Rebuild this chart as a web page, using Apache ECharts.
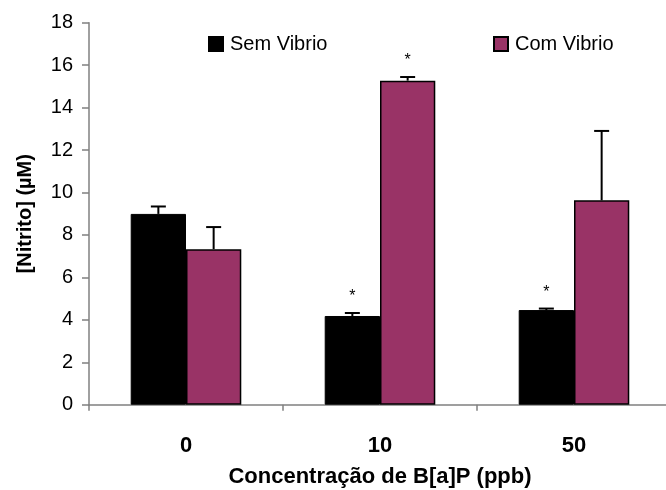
<!DOCTYPE html>
<html>
<head>
<meta charset="utf-8">
<script src="https://cdn.jsdelivr.net/npm/echarts@6/dist/echarts.min.js"></script>
<style>
  html, body { margin: 0; padding: 0; background: #fff; }
  #chart { width: 666px; height: 490px; }
</style>
</head>
<body>
<div id="chart"></div>
<script>
// Nitrite concentration by B[a]P dose, with and without Vibrio challenge
const categories = ['0', '10', '50'];
const semVibrio = [8.99, 4.18, 4.46];
const semVibrioErr = [0.35, 0.14, 0.07];
const semVibrioSig = [false, true, true];
const comVibrio = [7.33, 15.27, 9.63];
const comVibrioErr = [1.04, 0.17, 3.27];
const comVibrioSig = [false, true, false];
const yTicks = { min: 0, max: 18, interval: 2 };

const BAR_FRAC = 0.285;
const FONT = 'Liberation Sans, Arial, sans-serif';

function errItems(vals, errs, sig) {
  return vals.map((v, i) => [i, v, errs[i], sig[i] ? 1 : 0]);
}

// side: -1 = left bar of the pair, +1 = right bar
function errorRenderer(side) {
  return function (params, api) {
    const i = api.value(0), v = api.value(1), e = api.value(2), s = api.value(3);
    const catW = api.size([1, 0])[0];
    const bw = catW * BAR_FRAC;
    const base = api.coord([i, v]);
    const x = base[0] + side * bw / 2;
    const top = api.coord([i, v + e])[1];
    const style = { stroke: '#000', lineWidth: 2 };
    const children = [
      { type: 'line', shape: { x1: x, y1: base[1], x2: x, y2: top }, style: style },
      { type: 'line', shape: { x1: x - 7.5, y1: top, x2: x + 7.5, y2: top }, style: style }
    ];
    if (s) {
      children.push({
        type: 'text',
        style: { text: '*', x: x, y: top - 16, textAlign: 'center', textVerticalAlign: 'middle',
                 font: '16px ' + FONT, fill: '#000' }
      });
    }
    return { type: 'group', children: children };
  };
}

const legendText = { fontFamily: FONT, fontSize: 20, color: '#000', padding: [0, 0, 0, 2] };

const chart = echarts.init(document.getElementById('chart'), null, { renderer: 'canvas' });
chart.setOption({
  animation: false,
  backgroundColor: '#fff',
  grid: { left: 89, top: 22.7, width: 582, height: 382, containLabel: false, outerBoundsMode: 'none' },
  legend: [
    { data: ['Sem Vibrio'], left: 208, top: 34, padding: 0, itemWidth: 14, itemHeight: 14,
      icon: 'rect', textStyle: legendText },
    { data: ['Com Vibrio'], left: 493, top: 34, padding: 0, itemWidth: 14, itemHeight: 14,
      icon: 'rect', textStyle: legendText }
  ],
  xAxis: {
    type: 'category',
    data: categories,
    name: 'Concentração de B[a]P (ppb)',
    nameLocation: 'middle',
    nameGap: 61,
    nameTextStyle: { fontFamily: FONT, fontSize: 22, fontWeight: 'bold', color: '#000' },
    axisLine: { lineStyle: { color: '#808080', width: 1.5 } },
    axisTick: { show: true, length: 6, lineStyle: { color: '#808080', width: 1.5 } },
    axisLabel: { fontFamily: FONT, fontSize: 22, fontWeight: 'bold', color: '#000', margin: 30 },
    splitLine: { show: false }
  },
  yAxis: {
    type: 'value',
    min: yTicks.min, max: yTicks.max, interval: yTicks.interval,
    name: '[Nitrito] (µM)',
    nameLocation: 'middle',
    nameRotate: 90,
    nameGap: 54,
    nameTextStyle: { fontFamily: FONT, fontSize: 20, fontWeight: 'bold', color: '#000' },
    axisLine: { show: true, lineStyle: { color: '#808080', width: 1.5 } },
    axisTick: { show: true, length: 7, lineStyle: { color: '#808080', width: 1.5 } },
    axisLabel: { fontFamily: FONT, fontSize: 20, color: '#000', margin: 16 },
    splitLine: { show: false }
  },
  series: [
    {
      name: 'Sem Vibrio', type: 'bar', data: semVibrio,
      barWidth: (BAR_FRAC * 100) + '%', barGap: '0%',
      itemStyle: { color: '#000', borderColor: '#000', borderWidth: 1 }
    },
    {
      name: 'Com Vibrio', type: 'bar', data: comVibrio,
      barWidth: (BAR_FRAC * 100) + '%', barGap: '0%',
      itemStyle: { color: '#993366', borderColor: '#000', borderWidth: 1.5 }
    },
    {
      name: 'Sem Vibrio erro', type: 'custom', renderItem: errorRenderer(-1),
      data: errItems(semVibrio, semVibrioErr, semVibrioSig), z: 5, silent: true
    },
    {
      name: 'Com Vibrio erro', type: 'custom', renderItem: errorRenderer(1),
      data: errItems(comVibrio, comVibrioErr, comVibrioSig), z: 5, silent: true
    }
  ]
});
</script>
</body>
</html>
